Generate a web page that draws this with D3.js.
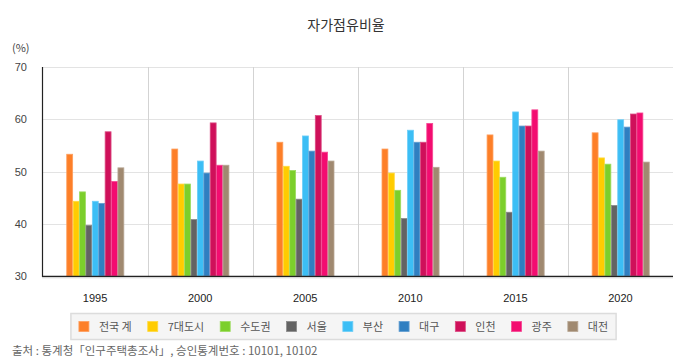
<!DOCTYPE html>
<html><head><meta charset="utf-8">
<script src="https://cdn.jsdelivr.net/npm/d3@7"></script>
<style>
html,body{margin:0;padding:0;background:#fff;}
svg text{font-family:"Noto Sans CJK KR","Noto Sans",sans-serif;}
</style></head>
<body><svg id="c" width="690" height="360"></svg>
<script>
const years = ["1995","2000","2005","2010","2015","2020"];
const seriesNames = ["전국 계","7대도시","수도권","서울","부산","대구","인천","광주","대전"];
const seriesColors = ["#fd7f28","#ffcc00","#7ccf2b","#636363","#3cbef5","#2f7fc1","#cf105a","#f30c70","#a08970"];
const vNational = [53.3,54.3,55.6,54.3,57.0,57.4];
const vSeven    = [44.3,47.6,51.0,49.7,52.0,52.6];
const vCapital  = [46.1,47.6,50.2,46.4,48.9,51.4];
const vSeoul    = [39.7,40.8,44.7,41.0,42.2,43.5];
const vBusan    = [44.3,52.0,56.8,57.9,61.4,59.9];
const vDaegu    = [43.9,49.7,53.9,55.6,58.7,58.5];
const vIncheon  = [57.6,59.3,60.7,55.6,58.7,61.0];
const vGwangju  = [48.1,51.2,53.7,59.2,61.8,61.2];
const vDaejeon  = [50.7,51.2,52.0,50.8,53.9,51.8];
const seriesValues = [vNational,vSeven,vCapital,vSeoul,vBusan,vDaegu,vIncheon,vGwangju,vDaejeon];
const yTicks = [30,40,50,60,70];

const svg = d3.select("#c");
const L = 42.5, R = 673, T = 67, B = 276;

const x0 = d3.scaleBand().domain(years).range([L, R]).padding(0);
const groupW = x0.bandwidth() * 0.548;
const x1 = d3.scaleBand().domain(seriesNames).range([0, groupW]).padding(0);
const y = d3.scaleLinear().domain([30, 70]).range([B, T]);

// title
svg.append("text").attr("x", 346).attr("y", 30).attr("text-anchor", "middle")
  .attr("font-size", 14).attr("fill", "#333").text("자가점유비율");
svg.append("text").attr("x", 12).attr("y", 52).attr("font-size", 11).attr("fill", "#444").text("(%)");

// horizontal grid
svg.append("g").selectAll("line").data(yTicks.slice(1)).join("line")
  .attr("x1", L).attr("x2", R).attr("y1", d => Math.round(y(d)) + 0.5).attr("y2", d => Math.round(y(d)) + 0.5)
  .attr("stroke", "#e3e3e3").attr("stroke-width", 1);
// vertical grid between categories
svg.append("g").selectAll("line").data(years.slice(1)).join("line")
  .attr("x1", d => Math.round(x0(d)) + 0.5).attr("x2", d => Math.round(x0(d)) + 0.5)
  .attr("y1", T).attr("y2", B).attr("stroke", "#d3d3d3").attr("stroke-width", 1);

// y labels
const yAxis = d3.axisLeft(y).tickValues(yTicks).tickSize(0).tickPadding(0).tickFormat(d3.format("d"));
const ya = svg.append("g").attr("transform", `translate(27,0)`).call(yAxis);
ya.select(".domain").remove();
ya.selectAll("text").attr("font-size", 11).attr("fill", "#444")
  .style("font-family", "'Liberation Sans', Arial, sans-serif");

// bars
const groups = svg.append("g").selectAll("g").data(years).join("g")
  .attr("transform", d => `translate(${x0(d) + (x0.bandwidth() - groupW) / 2},0)`);
groups.selectAll("rect").data((yr, i) => seriesNames.map((s, k) => ({s, k, v: seriesValues[k][i]}))).join("rect")
  .attr("x", d => x1(d.s) + 0.5)
  .attr("width", x1.bandwidth() - 0.5)
  .attr("y", d => y(d.v))
  .attr("height", d => B - y(d.v))
  .attr("fill", d => seriesColors[d.k])
  .attr("stroke", d => d3.interpolateRgb(seriesColors[d.k], "#fff")(0.25))
  .attr("stroke-width", 0.8);

// axes lines
svg.append("line").attr("x1", 42.5).attr("x2", 42.5).attr("y1", T).attr("y2", B + 1)
  .attr("stroke", "#222").attr("stroke-width", 1.2);
svg.append("line").attr("x1", 42).attr("x2", R).attr("y1", B + 0.5).attr("y2", B + 0.5)
  .attr("stroke", "#222").attr("stroke-width", 1.4);
svg.append("line").attr("x1", 42).attr("x2", R).attr("y1", B + 2).attr("y2", B + 2)
  .attr("stroke", "#e8e8e8").attr("stroke-width", 1);

// x labels
const xAxis = d3.axisBottom(x0).tickSize(0).tickPadding(0);
const xa = svg.append("g").attr("transform", `translate(0,${B + 26})`).call(xAxis);
xa.select(".domain").remove();
xa.selectAll("text").attr("font-size", 11).attr("fill", "#222").attr("dy", 0)
  .style("font-family", "'Liberation Sans', Arial, sans-serif");

// legend
const lg = svg.append("g");
const box = lg.append("rect").attr("y", 313.5).attr("height", 26).attr("fill", "#f5f5f5")
  .attr("stroke", "#dcdcdc").attr("stroke-width", 1.5);
let cx = 0;
const items = lg.append("g");
seriesNames.forEach((s, k) => {
  const g = items.append("g").attr("transform", `translate(${cx},0)`);
  g.append("rect").attr("x", 0).attr("y", 321.5).attr("width", 10).attr("height", 10)
    .attr("fill", seriesColors[k]).attr("stroke", d3.interpolateRgb(seriesColors[k], "#fff")(0.25)).attr("stroke-width", 0.8);
  const t = g.append("text").attr("x", 20).attr("y", 330.5).attr("font-size", 11).attr("fill", "#555").text(s);
  const w = t.node().getComputedTextLength();
  cx += 20 + w + 16;
});
const totalW = cx - 16;
const startX = 343 - totalW / 2 + 0.5;
items.attr("transform", `translate(${startX},0)`);
box.attr("x", startX - 8).attr("width", totalW + 16);

// footer
svg.append("text").attr("x", 12).attr("y", 355).attr("font-size", 11.5).attr("fill", "#666")
  .text("출처 : 통계청「인구주택총조사」, 승인통계번호 : 10101, 10102");
</script></body></html>
